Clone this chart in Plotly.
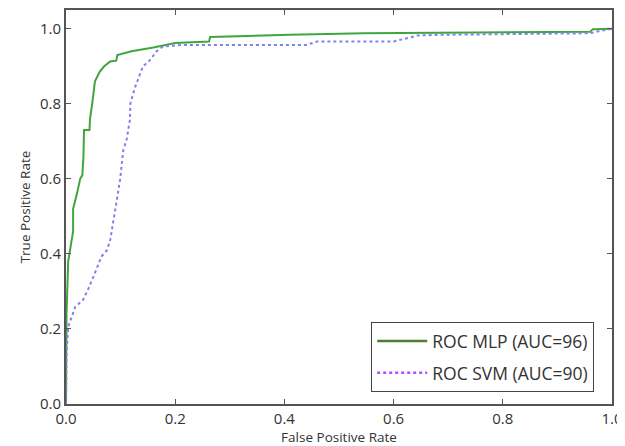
import plotly.graph_objects as go

# MLP ROC curve
mlp_fpr = [0.0, 0.0, 0.001, 0.004, 0.010, 0.013, 0.013, 0.017, 0.020, 0.026, 0.030, 0.032,
           0.033, 0.043, 0.044, 0.048, 0.053, 0.062, 0.070, 0.081, 0.092, 0.094, 0.120,
           0.160, 0.200, 0.262, 0.264, 0.410, 0.545, 0.750, 0.960, 0.965, 1.0]
mlp_tpr = [0.0, 0.10, 0.24, 0.38, 0.44, 0.46, 0.52, 0.54, 0.56, 0.60, 0.61, 0.66,
           0.73, 0.73, 0.76, 0.80, 0.86, 0.886, 0.90, 0.913, 0.915, 0.93, 0.94,
           0.95, 0.962, 0.966, 0.978, 0.984, 0.988, 0.990, 0.992, 0.999, 1.0]

# SVM ROC curve
svm_fpr = [0.0, 0.001, 0.004, 0.010, 0.017, 0.031, 0.040, 0.053, 0.065, 0.075, 0.081, 0.087,
           0.093, 0.099, 0.105, 0.111, 0.117, 0.118, 0.127, 0.136, 0.141, 0.154, 0.166,
           0.178, 0.215, 0.440, 0.460, 0.600, 0.644, 0.686, 0.960, 0.980, 1.0]
svm_tpr = [0.0, 0.136, 0.206, 0.233, 0.259, 0.277, 0.304, 0.349, 0.393, 0.410, 0.437, 0.490,
           0.544, 0.597, 0.677, 0.704, 0.757, 0.802, 0.846, 0.882, 0.900, 0.917, 0.940,
           0.953, 0.957, 0.957, 0.966, 0.966, 0.982, 0.984, 0.988, 0.995, 1.0]

labels = ["ROC MLP (AUC=96)", "ROC SVM (AUC=90)"]
tick_vals = [0.0, 0.2, 0.4, 0.6, 0.8, 1.0]

fig = go.Figure()
fig.add_trace(go.Scatter(x=mlp_fpr, y=mlp_tpr, mode="lines", showlegend=False,
                         line=dict(color="#3fa63f", width=2)))
fig.add_trace(go.Scatter(x=svm_fpr, y=svm_tpr, mode="lines", showlegend=False,
                         line=dict(color="#8080ee", width=2, dash="dot")))
# legend entries (colours as shown in the legend box)
fig.add_trace(go.Scatter(x=[None], y=[None], mode="lines", name=labels[0], legendgroup="a",
                         line=dict(color="#4e7d2c", width=2.5)))
fig.add_trace(go.Scatter(x=[None], y=[None], mode="lines", name=labels[1], legendgroup="b",
                         line=dict(color="#b04cff", width=2.5, dash="dot")))

axis_common = dict(
    showgrid=False, zeroline=False, showline=True, linecolor="#555555", linewidth=2,
    mirror="ticks", ticks="inside", ticklen=5, tickcolor="#555555", tickwidth=1,
    tickvals=tick_vals, tickformat=".1f", automargin=False,
    tickfont=dict(family="Open Sans", size=15, color="#333333"),
)

fig.update_xaxes(range=[0, 1.0], title=dict(text="False Positive Rate",
                 font=dict(family="Open Sans", size=13.5, color="#333333"), standoff=4),
                 **axis_common)
fig.update_yaxes(range=[0, 1.05], title=dict(text="True Positive Rate",
                 font=dict(family="Open Sans", size=13.5, color="#333333"), standoff=6),
                 **axis_common)

# the page body adds an 8px offset, so the figure is sized/margined to compensate
fig.update_layout(
    width=617, height=438,
    margin=dict(l=58, r=13, t=2, b=42),
    paper_bgcolor="white", plot_bgcolor="white",
    legend=dict(x=0.559, y=0.208, xanchor="left", yanchor="top",
                bordercolor="#444444", borderwidth=1, bgcolor="white",
                font=dict(family="Open Sans", size=17.5, color="#333333"),
                itemwidth=50, tracegroupgap=6),
)

fig.write_html("out.html")
